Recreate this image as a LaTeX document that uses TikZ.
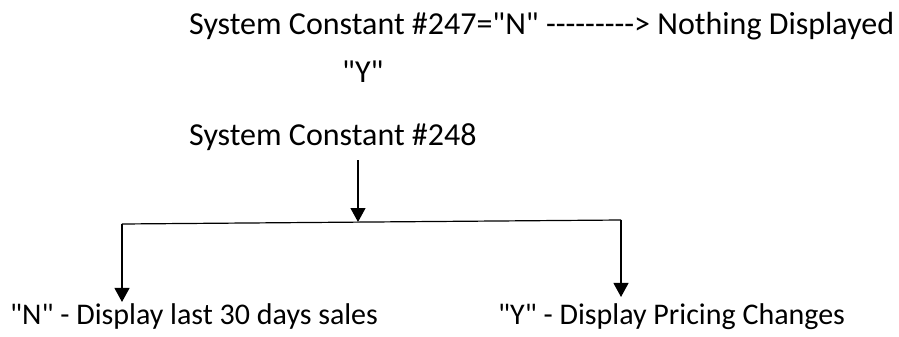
\documentclass[tikz,border=0pt]{standalone}
\usepackage{fontspec}
\setmainfont{Carlito}[Ligatures=TeXOff]
\usetikzlibrary{arrows.meta}
\tikzset{
    flow-text/.style = {inner sep=0pt, anchor=base west, font=\fontsize{32}{38}\selectfont},
    leaf-text/.style = {flow-text, font=\fontsize{30}{36}\selectfont},
    flow-line/.style = {draw=black, line width=1.2pt},
    flow-arrow/.style = {flow-line, -{Triangle[length=14pt, width=15pt]}},
}

\begin{document}
\begin{tikzpicture}[x=1pt, y=-1pt]
\useasboundingbox (0,0) rectangle (899,337);
\node[flow-text] (const247) at (189,35) {System Constant \#247="N" ---------> Nothing Displayed};
\node[flow-text] (yes247) at (342,82) {"Y"};
\node[flow-text] (const248) at (189,145) {System Constant \#248};
\node[leaf-text] (show-sales) at (10,324) {"N" - Display last 30 days sales};
\node[leaf-text] (show-pricing) at (498,324) {"Y" - Display Pricing Changes};
\coordinate (split) at (358,222);
\coordinate (split-left) at (122,224);
\coordinate (split-right) at (621,220);
\draw[flow-arrow, shorten <=10pt] (split |- const248.south) -- (split);
\draw[flow-line] (split-left) -- (split-right);
\draw[flow-arrow, shorten >=1pt] (split-left) -- (split-left |- show-sales.north);
\draw[flow-arrow, shorten >=6pt] (split-right) -- (split-right |- show-pricing.north);
\end{tikzpicture}
\end{document}
